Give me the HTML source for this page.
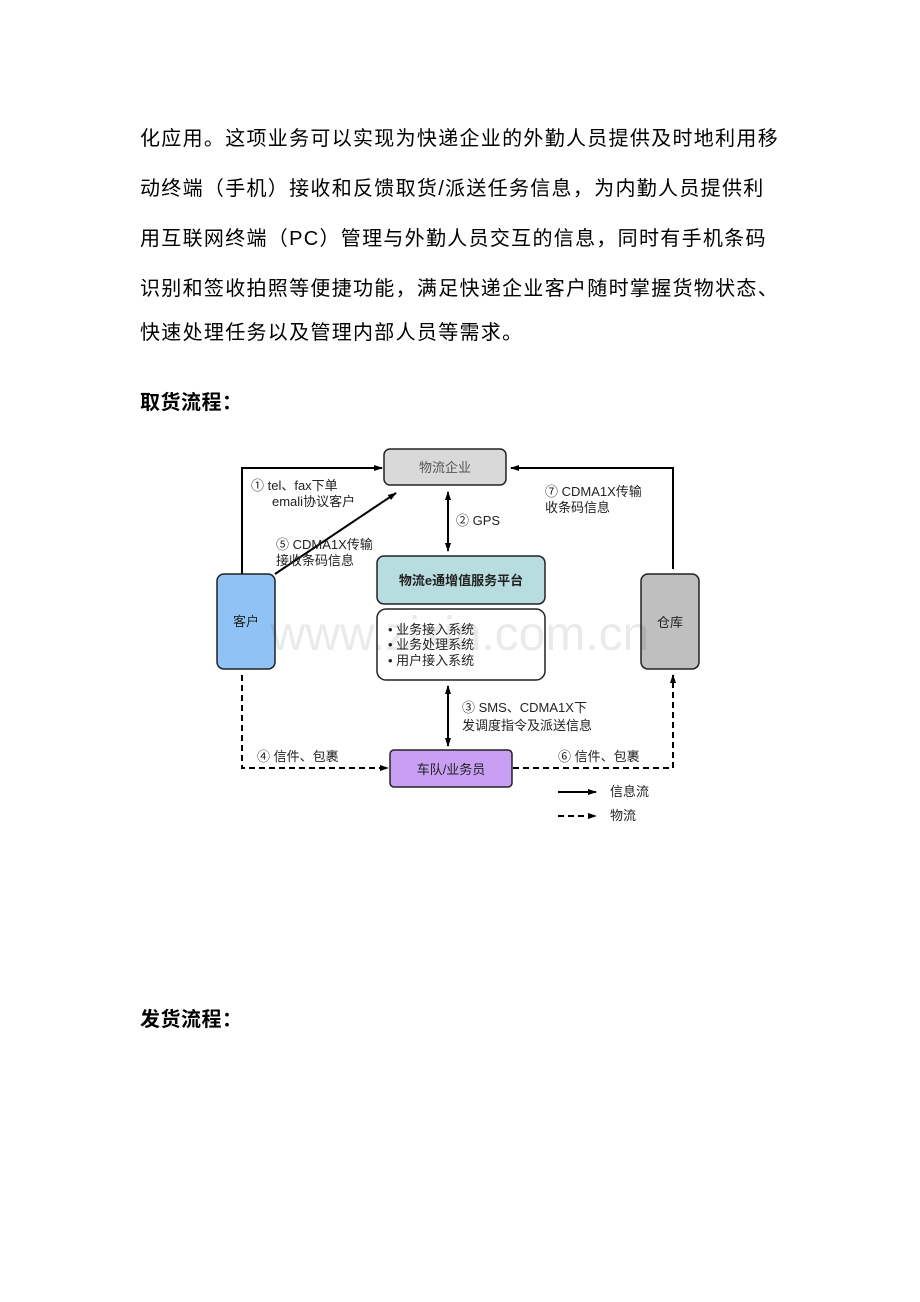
<!DOCTYPE html>
<html><head><meta charset="utf-8"><style>
body{margin:0;width:920px;height:1302px;background:#fff;font-family:"Liberation Sans","Noto Sans CJK SC",sans-serif;position:relative;overflow:hidden}
.p{position:absolute;left:140px;font-size:20px;color:#000;white-space:nowrap;letter-spacing:1.3px}
.b{font-weight:bold;letter-spacing:0.5px}
svg{position:absolute;left:0;top:0}
</style></head><body>
<div class="p" style="top:122px">化应用。这项业务可以实现为快递企业的外勤人员提供及时地利用移</div>
<div class="p" style="top:172px">动终端（手机）接收和反馈取货/派送任务信息，为内勤人员提供利</div>
<div class="p" style="top:222px">用互联网终端（PC）管理与外勤人员交互的信息，同时有手机条码</div>
<div class="p" style="top:272px">识别和签收拍照等便捷功能，满足快递企业客户随时掌握货物状态、</div>
<div class="p" style="top:316px">快速处理任务以及管理内部人员等需求。</div>
<div class="p b" style="top:386px">取货流程：</div>
<div class="p b" style="top:1003px">发货流程：</div>
<svg width="920" height="1302" font-family="Liberation Sans,Noto Sans CJK SC,sans-serif">
<defs><marker id="a" markerUnits="userSpaceOnUse" markerWidth="9" markerHeight="8" refX="8" refY="4" orient="auto"><path d="M0,1 L9,4 L0,7z" fill="#000"/></marker></defs>
<g stroke="#000" stroke-width="2" fill="none">
<polyline points="242,574 242,468 382,468" marker-end="url(#a)"/>
<polyline points="673,569 673,468 511,468" marker-end="url(#a)"/>
<line x1="275" y1="574" x2="396" y2="493" marker-end="url(#a)"/>
<line x1="448" y1="500" x2="448" y2="551" marker-end="url(#a)"/>
<line x1="448" y1="546" x2="448" y2="492" marker-end="url(#a)"/>
<line x1="448" y1="695" x2="448" y2="746" marker-end="url(#a)"/>
<line x1="448" y1="742" x2="448" y2="686" marker-end="url(#a)"/>
<polyline points="242,675 242,768 388,768" stroke-dasharray="6,4" marker-end="url(#a)"/>
<polyline points="513,768 673,768 673,675" stroke-dasharray="6,4" marker-end="url(#a)"/>
<line x1="558" y1="792" x2="596" y2="792" marker-end="url(#a)"/>
<line x1="558" y1="816" x2="596" y2="816" stroke-dasharray="6,4" marker-end="url(#a)"/>
</g>
<g stroke="#222" stroke-width="1.5">
<rect x="384" y="449" width="122" height="36" rx="6" fill="#d9d9d9"/>
<rect x="217" y="574" width="58" height="95" rx="7" fill="#8fc3f5"/>
<rect x="641" y="574" width="58" height="95" rx="7" fill="#bfbfbf"/>
<rect x="377" y="556" width="168" height="48" rx="7" fill="#b7dde0"/>
<rect x="377" y="609" width="168" height="71" rx="9" fill="#fff"/>
<rect x="390" y="750" width="122" height="37" rx="4" fill="#c89ff2"/>
</g>
<g font-size="13" fill="#222">
<text x="445" y="472" text-anchor="middle" fill="#555">物流企业</text>
<text x="246" y="626" text-anchor="middle">客户</text>
<text x="670" y="627" text-anchor="middle">仓库</text>
<text x="461" y="585" text-anchor="middle" font-weight="bold">物流e通增值服务平台</text>
<text x="388" y="634">•  业务接入系统</text>
<text x="388" y="649">•  业务处理系统</text>
<text x="388" y="665">•  用户接入系统</text>
<text x="451" y="774" text-anchor="middle">车队/业务员</text>
<text x="251" y="490">① tel、fax下单</text>
<text x="272" y="506">emali协议客户</text>
<text x="276" y="549">⑤ CDMA1X传输</text>
<text x="276" y="565">接收条码信息</text>
<text x="545" y="496">⑦ CDMA1X传输</text>
<text x="545" y="512">收条码信息</text>
<text x="456" y="525">② GPS</text>
<text x="462" y="712">③ SMS、CDMA1X下</text>
<text x="462" y="730">发调度指令及派送信息</text>
<text x="257" y="761">④ 信件、包裹</text>
<text x="558" y="761">⑥ 信件、包裹</text>
<text x="610" y="796">信息流</text>
<text x="610" y="820">物流</text>
</g>
<text x="460" y="650" font-size="48" fill="#000" opacity="0.08" text-anchor="middle">www.zixin.com.cn</text>
</svg>
</body></html>
